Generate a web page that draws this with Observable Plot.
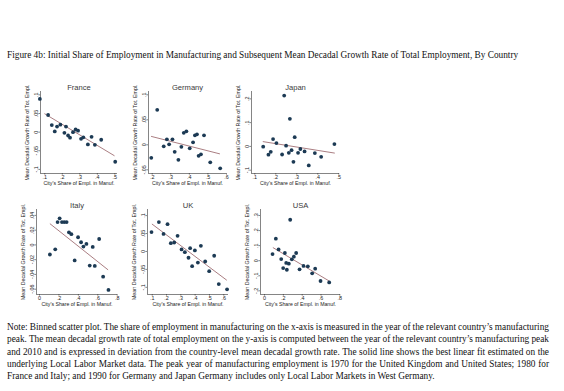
<!DOCTYPE html>
<html><head><meta charset="utf-8">
<script src="https://cdn.jsdelivr.net/npm/d3@7"></script>
<script src="https://cdn.jsdelivr.net/npm/@observablehq/plot@0.6"></script>
<style>
body{margin:0;background:#fff;}
#wrap{position:relative;width:564px;height:391px;background:#fff;overflow:hidden;}
#title{position:absolute;left:7px;top:50px;font-family:"Liberation Serif","Times New Roman",serif;font-size:9.3px;white-space:nowrap;color:#111;}
#note{position:absolute;left:7px;top:321px;width:542px;font-family:"Liberation Serif","Times New Roman",serif;font-size:9.3px;line-height:12.3px;color:#111;}
#note div{white-space:nowrap;}
</style></head>
<body><div id="wrap"><div id="title"></div><div id="note"></div></div>
<script>
const figTitle = "Figure 4b: Initial Share of Employment in Manufacturing and Subsequent Mean Decadal Growth Rate of Total Employment, By Country";
const noteLines = [
 "Note: Binned scatter plot. The share of employment in manufacturing on the x-axis is measured in the year of the relevant country\u2019s manufacturing",
 "peak. The mean decadal growth rate of total employment on the y-axis is computed between the year of the relevant country\u2019s manufacturing peak",
 "and 2010 and is expressed in deviation from the country-level mean decadal growth rate. The solid line shows the best linear fit estimated on the",
 "underlying Local Labor Market data. The peak year of manufacturing employment is 1970 for the United Kingdom and United States; 1980 for",
 "France and Italy; and 1990 for Germany and Japan Germany includes only Local Labor Markets in West Germany."
];
const yTitle = "Mean Decadal Growth Rate of Tot. Empl.";
const xTitle = "City's Share of Empl. in Manuf.";
const countries = ["France","Germany","Japan","Italy","UK","USA"];

const franceX = [0.072,0.119,0.140,0.157,0.170,0.189,0.212,0.221,0.233,0.244,0.261,0.276,0.290,0.307,0.320,0.346,0.367,0.386,0.422,0.502];
const franceY = [0.089,0.046,0.019,0.002,0.015,0.020,-0.002,0.015,-0.009,-0.015,0.000,0.007,0.004,-0.018,-0.014,-0.033,-0.0125,-0.034,-0.0205,-0.0795];
const franceFitX = [0.100,0.496], franceFitY = [0.049,-0.063];
const franceXTicks = [0.1,0.2,0.3,0.4,0.5], franceYTicks = [-0.1,-0.05,0,0.05,0.1];

const germanyX = [0.195,0.227,0.262,0.279,0.291,0.309,0.321,0.341,0.357,0.370,0.384,0.402,0.420,0.430,0.441,0.450,0.4625,0.479,0.5125,0.566];
const germanyY = [-0.026,0.070,-0.003,0.011,0.001,0.011,-0.014,-0.030,-0.004,0.024,0.027,-0.007,0.005,0.019,0.021,-0.022,-0.019,0.019,-0.035,-0.047];
const germanyFitX = [0.196,0.5625], germanyFitY = [0.0167,-0.018];
const germanyXTicks = [0.2,0.3,0.4,0.5,0.6], germanyYTicks = [-0.05,0,0.05,0.1];

const japanX = [0.140,0.165,0.176,0.187,0.203,0.230,0.240,0.249,0.262,0.267,0.275,0.284,0.290,0.306,0.317,0.337,0.357,0.386,0.416,0.479];
const japanY = [-0.001,-0.035,-0.023,0.031,0.014,-0.034,0.214,0.003,-0.027,0.116,-0.016,-0.065,0.039,-0.027,-0.011,-0.021,-0.080,-0.028,-0.044,0.010];
const japanFitX = [0.140,0.479], japanFitY = [0.020,-0.028];
const japanXTicks = [0.1,0.2,0.3,0.4,0.5], japanYTicks = [-0.1,0,0.1,0.2];

const italyX = [0.107,0.162,0.186,0.207,0.231,0.255,0.279,0.303,0.328,0.362,0.397,0.428,0.452,0.483,0.517,0.548,0.569,0.614,0.655,0.710];
const italyY = [-0.013,-0.006,0.031,0.036,0.031,0.031,0.031,0.017,0.0145,-0.021,0.0104,0.0036,-0.0023,0.0014,-0.028,-0.0027,-0.0285,0.008,-0.043,-0.061];
const italyFitX = [0.110,0.703], italyFitY = [0.0285,-0.0335];
const italyXTicks = [0,0.2,0.4,0.6,0.8], italyYTicks = [-0.06,-0.04,-0.02,0,0.02,0.04];

const ukX = [0.095,0.1465,0.179,0.207,0.230,0.2535,0.277,0.305,0.328,0.3535,0.365,0.379,0.398,0.419,0.440,0.470,0.498,0.533,0.565,0.623];
const ukY = [0.054,0.082,0.049,0.076,0.023,0.025,0.0435,0.0056,-0.002,-0.0176,0.0093,-0.041,0.003,-0.031,0.0157,-0.028,-0.055,-0.012,-0.091,-0.1055];
const ukFitX = [0.100,0.619], ukFitY = [0.076,-0.0796];
const ukXTicks = [0.1,0.2,0.3,0.4,0.5,0.6], ukYTicks = [-0.1,-0.05,0,0.05,0.1];

const usaX = [0.085,0.120,0.149,0.177,0.198,0.216,0.230,0.237,0.258,0.2725,0.290,0.3115,0.336,0.372,0.414,0.460,0.506,0.538,0.595,0.687];
const usaY = [0.044,0.146,0.075,0.011,-0.049,0.051,-0.015,-0.060,-0.020,0.272,0.009,0.0265,0.051,-0.0575,-0.035,-0.0376,-0.084,-0.053,-0.135,-0.144];
const usaFitX = [0.092,0.687], usaFitY = [0.086,-0.135];
const usaXTicks = [0,0.2,0.4,0.6,0.8], usaYTicks = [-0.2,-0.1,0,0.1,0.2,0.3];

// ---------- layout (pixel boxes of each plot region and scale domains) ----------
const panels = [
 {name:countries[0], xs:franceX, ys:franceY, fx:franceFitX, fy:franceFitY, xt:franceXTicks, yt:franceYTicks,
  box:{L:40,R:117,T:91,B:173}, xd:[0.0755,0.515], yd:[-0.111,0.109]},
 {name:countries[1], xs:germanyX, ys:germanyY, fx:germanyFitX, fy:germanyFitY, xt:germanyXTicks, yt:germanyYTicks,
  box:{L:148,R:226,T:91,B:173}, xd:[0.180,0.600], yd:[-0.0574,0.1066]},
 {name:countries[2], xs:japanX, ys:japanY, fx:japanFitX, fy:japanFitY, xt:japanXTicks, yt:japanYTicks,
  box:{L:251,R:339,T:91,B:173}, xd:[0.0843,0.5033], yd:[-0.114,0.231]},
 {name:countries[3], xs:italyX, ys:italyY, fx:italyFitX, fy:italyFitY, xt:italyXTicks, yt:italyYTicks,
  box:{L:36,R:117,T:209,B:294}, xd:[-0.031,0.803], yd:[-0.0672,0.048]},
 {name:countries[4], xs:ukX, ys:ukY, fx:ukFitX, fy:ukFitY, xt:ukXTicks, yt:ukYTicks,
  box:{L:147,R:228,T:209,B:294}, xd:[0.067,0.633], yd:[-0.120,0.117]},
 {name:countries[5], xs:usaX, ys:usaY, fx:usaFitX, fy:usaFitY, xt:usaXTicks, yt:usaYTicks,
  box:{L:260,R:340,T:209,B:294}, xd:[-0.043,0.807], yd:[-0.2245,0.34]}
];

const wrap = document.getElementById("wrap");
document.getElementById("title").textContent = figTitle;

const note = document.getElementById("note");
noteLines.forEach((t,i)=>{
  const d = document.createElement("div");
  const s = document.createElement("span");
  s.textContent = t; d.appendChild(s); note.appendChild(d);
  if (i < noteLines.length-1) {
    const w = s.getBoundingClientRect().width;
    const n = (t.match(/ /g)||[]).length;
    s.style.wordSpacing = ((542 - w)/n) + "px";
  }
});

function fmt(d){
  if (d === 0) return "0";
  const s = String(+d.toFixed(3));
  return s.replace(/^(-?)0\./, "$1.");
}

const axisColor = "#333";
const font = "'Liberation Sans', Arial, sans-serif";
panels.forEach(p=>{
  const mL=26, mR=8, mT=17, mB=18;
  const b = p.box;
  const pts = p.xs.map((x,i)=>({x, y:p.ys[i]}));
  const fit = p.fx.map((x,i)=>({x, y:p.fy[i]}));
  const svg = Plot.plot({
    width: b.R-b.L+mL+mR, height: b.B-b.T+mT+mB,
    marginLeft:mL, marginRight:mR, marginTop:mT, marginBottom:mB,
    x:{domain:p.xd}, y:{domain:p.yd},
    style:{fontFamily:font, background:"transparent", overflow:"visible", color:"#222"},
    marks:[
      Plot.ruleX([p.xd[0]], {stroke:axisColor, strokeWidth:0.6}),
      Plot.ruleY([p.yd[0]], {stroke:axisColor, strokeWidth:0.6}),
      Plot.axisX(p.xt, {tickSize:1.6, tickPadding:0, fontSize:5.4, tickFormat:fmt, label:null, stroke:axisColor, strokeWidth:0.6}),
      Plot.axisY(p.yt, {tickSize:1.6, tickFormat:()=>"", label:null, stroke:axisColor, strokeWidth:0.6}),
      Plot.text(p.yt, {y:d=>d, text:fmt, frameAnchor:"left", rotate:-90, textAnchor:"middle", lineAnchor:"middle", dx:-4.4, fontSize:5.4, fill:"#222"}),
      Plot.line(fit, {x:"x", y:"y", stroke:"#85464c", strokeWidth:0.7}),
      Plot.dot(pts, {x:"x", y:"y", r:1.9, fill:"#1c3a54", stroke:"none"}),
      Plot.text([p.name], {text:d=>d, frameAnchor:"top", dy:-7, fontSize:7.6, fill:"#3a3a3a"}),
      Plot.text([yTitle], {text:d=>d, frameAnchor:"left", rotate:-90, textAnchor:"middle", lineAnchor:"middle", dx:-12.8, fontSize:5.3, fill:"#222"}),
      Plot.text([xTitle], {text:d=>d, frameAnchor:"bottom", textAnchor:"middle", dy:11.6, fontSize:5.2, fill:"#222"})
    ]
  });
  svg.style.position = "absolute";
  svg.style.left = (b.L-mL)+"px";
  svg.style.top = (b.T-mT)+"px";
  wrap.appendChild(svg);
});
</script>
</body></html>
